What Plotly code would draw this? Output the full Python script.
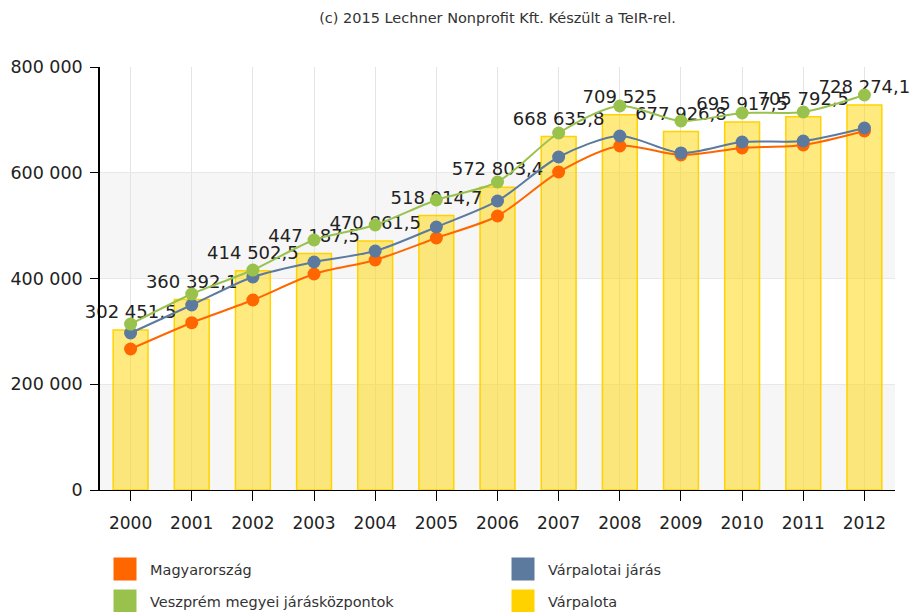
import plotly.graph_objects as go

years = ["2000", "2001", "2002", "2003", "2004", "2005", "2006",
         "2007", "2008", "2009", "2010", "2011", "2012"]

varpalota = [302451.5, 360392.1, 414502.5, 447187.5, 470861.5, 518914.7, 572803.4,
             668635.8, 709525.0, 677926.8, 695917.5, 705792.5, 728274.1]
magyarorszag = [266700, 316400, 359300, 408500, 435000, 476600, 518200,
                601400, 650600, 633600, 646800, 652500, 679000]
varpalotai_jaras = [296900, 349900, 402800, 431200, 452000, 497400, 546600,
                    629800, 669500, 637400, 658200, 660000, 684600]
veszprem_kozpontok = [313900, 370700, 416000, 472800, 501200, 548500, 582500,
                      675200, 726200, 697900, 713000, 714900, 747000]

y_ticks = [0, 200000, 400000, 600000, 800000]

names = ["Magyarország", "Várpalotai járás", "Veszprém megyei járásközpontok", "Várpalota"]
colors = {"Magyarország": "#FF6600", "Várpalotai járás": "#5C7A9E",
          "Veszprém megyei járásközpontok": "#99C24D", "Várpalota": "#FFD200"}


def hu(v):
    if float(v).is_integer():
        s = f"{int(v):,}"
    else:
        s = f"{v:,.1f}"
    return s.replace(",", " ").replace(".", ",")


FONT = "DejaVu Sans, Verdana, sans-serif"

fig = go.Figure()

fig.add_trace(go.Bar(
    x=years, y=varpalota, name="Várpalota", width=0.57,
    marker=dict(color="rgba(255,214,0,0.5)", line=dict(color="#FFD200", width=1.5)),
    hoverinfo="y",
))

fig.add_trace(go.Scatter(
    x=years, y=varpalota, mode="markers+text", text=[hu(v) for v in varpalota],
    textposition="top center", marker=dict(size=10, color="rgba(0,0,0,0)"),
    textfont=dict(family=FONT, size=18, color="#222222"),
    showlegend=False, hoverinfo="skip", cliponaxis=False,
))

for nm, vals in [("Magyarország", magyarorszag),
                 ("Várpalotai járás", varpalotai_jaras),
                 ("Veszprém megyei járásközpontok", veszprem_kozpontok)]:
    fig.add_trace(go.Scatter(
        x=years, y=vals, name=nm, mode="lines+markers",
        line=dict(color=colors[nm], width=2, shape="spline", smoothing=0.8),
        marker=dict(size=13, color=colors[nm]),
        cliponaxis=False,
    ))

# alternating background bands
for i in range(0, len(y_ticks) - 1, 2):
    fig.add_shape(type="rect", xref="paper", yref="y", x0=0, x1=1,
                  y0=y_ticks[i], y1=y_ticks[i + 1], fillcolor="#F6F6F6",
                  line_width=0, layer="below")

# manual legend
plot_top, plot_bot = 67, 490
ph = plot_bot - plot_top
pw = 795


def py(px):
    return (plot_bot - px) / ph


def pxp(px):
    return (px - 100) / pw


legend_pos = [(113, 557), (511, 557), (113, 589), (511, 589)]
for nm, (lx, ly) in zip(names, legend_pos):
    fig.add_shape(type="rect", xref="paper", yref="paper",
                  x0=pxp(lx), x1=pxp(lx + 24), y0=py(ly), y1=py(ly + 24),
                  fillcolor=colors[nm], line=dict(color="#FFFFFF", width=1))
    fig.add_annotation(xref="paper", yref="paper", x=pxp(lx + 35), y=py(ly + 13),
                       text=nm, showarrow=False, xanchor="left", yanchor="middle",
                       font=dict(family=FONT, size=14.5, color="#333333"))

fig.update_layout(
    width=911, height=612,
    margin=dict(l=100, r=16, t=67, b=122, autoexpand=False),
    paper_bgcolor="white", plot_bgcolor="white",
    separators=", ",
    showlegend=False,
    title=dict(text="(c) 2015 Lechner Nonprofit Kft. Készült a TeIR-rel.",
               x=0.5, xref="paper", y=1 - 18 / 612, yanchor="middle",
               font=dict(family=FONT, size=14.5, color="#333333")),
    font=dict(family=FONT, color="#222222"),
    bargap=0.43,
)

fig.update_xaxes(
    type="category", range=[-0.5, 12.5], automargin=False,
    showgrid=True, gridcolor="#E4E4E4", gridwidth=1,
    showline=True, linecolor="#000000", linewidth=1,
    ticks="outside", ticklen=10, tickcolor="#000000", ticklabelstandoff=8,
    tickfont=dict(family=FONT, size=17, color="#222222"),
)
fig.update_yaxes(
    range=[0, 800000], tickvals=y_ticks, tickformat=",d", automargin=False,
    showgrid=True, gridcolor="#E8E8E8", gridwidth=1,
    showline=True, linecolor="#000000", linewidth=1.5,
    ticks="outside", ticklen=8, tickcolor="#000000", ticklabelstandoff=4,
    tickfont=dict(family=FONT, size=17.5, color="#222222"),
    zeroline=False,
)

fig.write_html("out.html", config={"displayModeBar": False},
               post_script="document.body.style.margin='0';document.body.style.overflow='hidden';")
